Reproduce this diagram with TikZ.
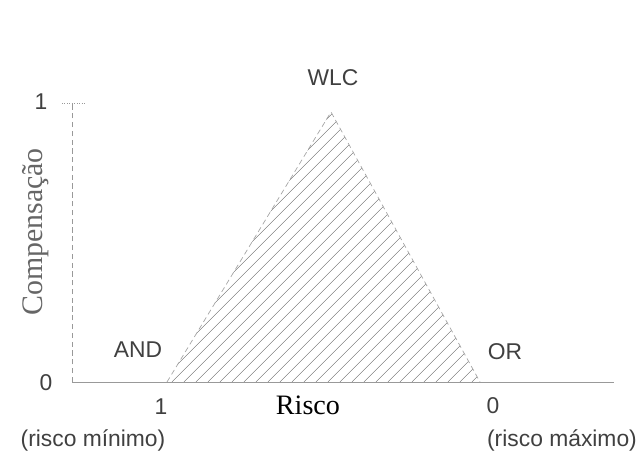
\documentclass[tikz,border=0pt]{standalone}
\usepackage{fontspec}
\setmainfont{Liberation Serif}
\setsansfont{Liberation Sans}
\tikzset{
  lbl/.style={font=\sffamily\fontsize{13}{15}\selectfont, text=black!75},
  axisline/.style={black!40, thin},
  hatchline/.style={black!60, very thin},
}
\begin{document}
\begin{tikzpicture}[x=0.02cm,y=-0.02cm]
    \useasboundingbox (0,0) rectangle (637,455);
    % axes
    \coordinate (o) at (72,382);
    \coordinate (ytop) at (72,103);
    \coordinate (xend) at (614,382);
    \draw[axisline, densely dashed] (o) -- (ytop);
    \draw[axisline, densely dotted] ([xshift=-0.2cm]ytop) -- ([xshift=0.25cm]ytop);
    \draw[axisline] (o) -- (xend);
    % triangle
    \coordinate (p-and) at (167,382);
    \coordinate (p-wlc) at (331,112);
    \coordinate (p-or) at (480,382);
    \begin{scope}
        \clip (p-and) -- (p-wlc) -- (p-or) -- cycle;
        \foreach \x in {-140,-128,...,480}
            \draw[hatchline] (\x,382) -- ++(270,-270);
    \end{scope}
    \draw[black!35, densely dashed] (p-and) -- (p-wlc) -- (p-or);
    % labels
    \node[lbl] (wlc) at (333,78) {WLC};
    \node[lbl] (and) at (138,350) {AND};
    \node[lbl] (or) at (505,352) {OR};
    \node[lbl] (yone) at (41,102) {1};
    \node[lbl] (yzero) at (46,383) {0};
    \node[font=\fontsize{17}{19}\selectfont, text=black!60, rotate=90] (comp) at (36,232) {Compensação};
    \node[lbl] (xone) at (161,407) {1};
    \node[lbl] (xzero) at (493,406) {0};
    \node[font=\fontsize{16}{18}\selectfont] (risco) at (308,405) {Risco};
    \node[lbl] (rmin) at (93,440) {(risco mínimo)};
    \node[lbl] (rmax) at (562,440) {(risco máximo)};
\end{tikzpicture}
\end{document}
